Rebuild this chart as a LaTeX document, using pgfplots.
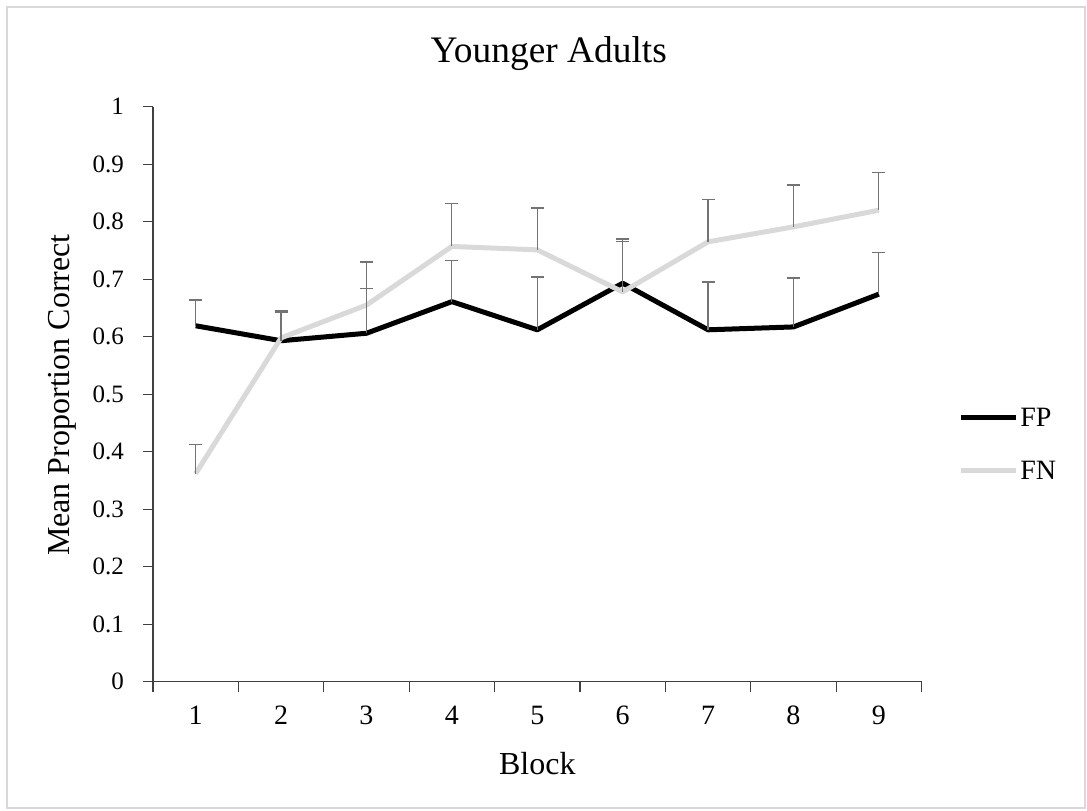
\documentclass[border=0pt]{standalone}
\usepackage{fontspec}
\setmainfont{Liberation Serif}
\usepackage{pgfplots}
\usepackage{pgfplotstable}
\pgfplotsset{compat=1.18}
\definecolor{fngray}{HTML}{D9D9D9}
\definecolor{errgray}{HTML}{737373}
\definecolor{bordergray}{HTML}{D9D9D9}
\definecolor{axisgray}{HTML}{404040}

\pgfplotstableread{
x fp fperr fn fnerr
1 0.619 0.045 0.362 0.050
2 0.593 0.053 0.598 0.045
3 0.606 0.078 0.655 0.075
4 0.661 0.072 0.757 0.074
5 0.612 0.092 0.751 0.073
6 0.693 0.072 0.678 0.092
7 0.612 0.083 0.765 0.074
8 0.617 0.085 0.791 0.073
9 0.674 0.072 0.820 0.066
}\datatable

\begin{document}
\begin{tikzpicture}
\useasboundingbox (-76.5pt,-64.15pt) rectangle (467pt,340.85pt);
\draw[bordergray, line width=1pt] (-73pt,-63.2pt) rectangle (466pt,337.3pt);
\begin{axis}[
  scale only axis,
  width=384.3pt, height=287.5pt,
  xmin=0.5, xmax=9.5, ymin=0, ymax=1,
  axis x line*=bottom, axis y line*=left,
  axis line style={-, axisgray, line width=0.7pt},
  tick style={axisgray, line width=0.6pt},
  tick align=outside,
  major tick length=5pt,
  xtick={0.5,1.5,2.5,3.5,4.5,5.5,6.5,7.5,8.5,9.5},
  xticklabels={,,,,,,,,,},
  extra x ticks={1,2,3,4,5,6,7,8,9},
  extra x tick labels={1,2,3,4,5,6,7,8,9},
  extra x tick style={major tick length=0pt},
  ytick={0,0.1,0.2,0.3,0.4,0.5,0.6,0.7,0.8,0.9,1},
  yticklabels={0,0.1,0.2,0.3,0.4,0.5,0.6,0.7,0.8,0.9,1},
  /pgf/number format/assume math mode=true,
  tick label style={text=black},
  x tick label style={yshift=-8.7pt, font=\fontsize{14}{16}\selectfont},
  y tick label style={xshift=-6pt, font=\fontsize{12.5}{14}\selectfont},
  title={Younger Adults},
  title style={at={(0.515,1.0568)}, anchor=base, inner sep=0pt, font=\fontsize{18.7}{20}\selectfont},
  xlabel={Block},
  xlabel style={at={(0.5,-0.1605)}, anchor=base, inner sep=0pt, font=\fontsize{16}{18}\selectfont},
  ylabel={Mean Proportion Correct},
  ylabel style={at={(-0.1184,0.4986)}, anchor=center, inner sep=0pt, font=\fontsize{16}{18}\selectfont},
  legend style={draw=none, fill=none, at={(1.0396,0.414)}, anchor=west,
    font=\fontsize{14}{14}\selectfont, row sep=15pt,
    nodes={inner sep=1pt, text height=9.5pt, text depth=0pt}},
  legend cell align=left,
  legend image code/.code={\draw[#1] (0pt,0pt) -- (27.5pt,0pt);},
  clip=false,
]
\addplot[black, line width=2.5pt, line join=round] table[x=x, y=fp] {\datatable};
\addlegendentry{FP}
\addplot[fngray, line width=2.5pt, line join=round] table[x=x, y=fn] {\datatable};
\addlegendentry{FN}
\addplot[draw=none, forget plot,
  error bars/.cd, y dir=plus, y explicit,
  error bar style={errgray, line width=0.6pt},
  error mark options={errgray, line width=0.6pt, mark size=3.25pt, rotate=90}]
  table[x=x, y=fp, y error=fperr] {\datatable};
\addplot[draw=none, forget plot,
  error bars/.cd, y dir=plus, y explicit,
  error bar style={errgray, line width=0.6pt},
  error mark options={errgray, line width=0.6pt, mark size=3.25pt, rotate=90}]
  table[x=x, y=fn, y error=fnerr] {\datatable};
\end{axis}
\end{tikzpicture}
\end{document}
